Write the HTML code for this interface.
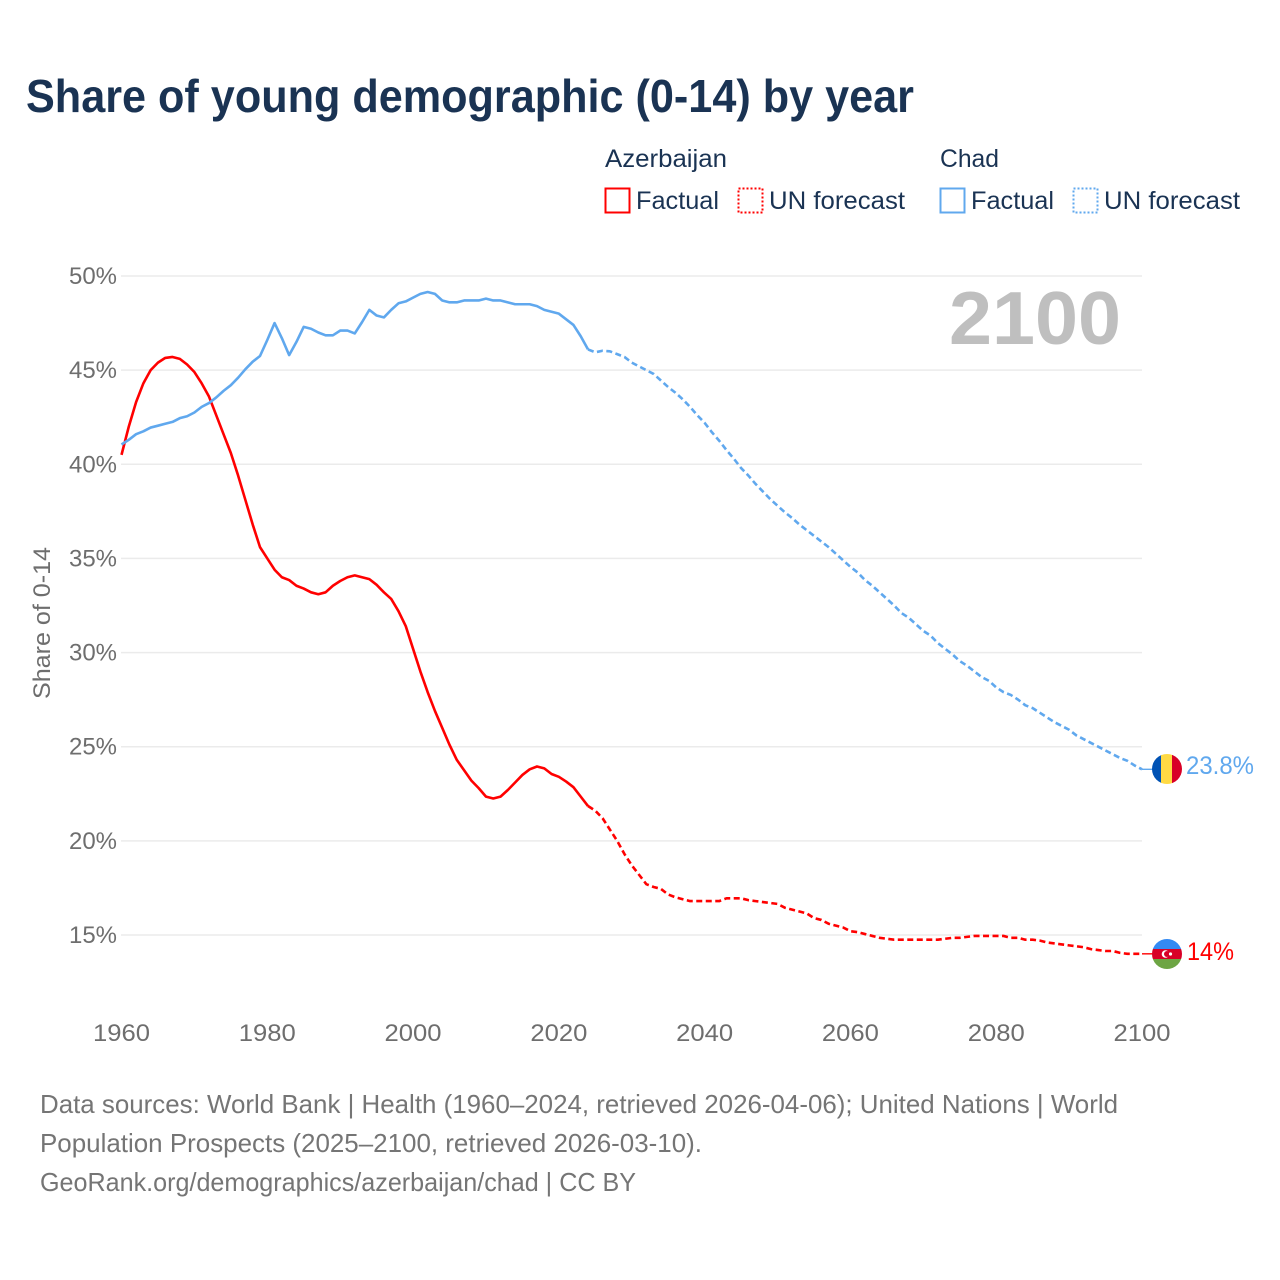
<!DOCTYPE html>
<html lang="en">
<head>
<meta charset="utf-8">
<title>Share of young demographic (0-14) by year</title>
<style>
html,body{margin:0;padding:0;background:#fff;width:1280px;height:1280px;overflow:hidden}
svg{display:block}
text{font-family:"Liberation Sans",Arial,sans-serif}
</style>
</head>
<body>
<svg id="chart" xmlns="http://www.w3.org/2000/svg" width="1280" height="1280" viewBox="0 0 1280 1280">
  <rect width="1280" height="1280" fill="#ffffff"/>
  <text x="26" y="112" font-size="46" font-weight="700" fill="#1a3353" textLength="888" lengthAdjust="spacingAndGlyphs">Share of young demographic (0-14) by year</text>

  <g font-size="25" fill="#1a3353">
    <text x="605" y="167" textLength="122" lengthAdjust="spacingAndGlyphs">Azerbaijan</text>
    <text x="940" y="167" textLength="59" lengthAdjust="spacingAndGlyphs">Chad</text>
    <g>
      <rect x="605.5" y="188.5" width="24" height="24" fill="none" stroke="#ff0000" stroke-width="2"/>
      <text x="636" y="209" textLength="83" lengthAdjust="spacingAndGlyphs">Factual</text>
    </g>
    <g>
      <rect x="738.5" y="188.5" width="24" height="24" fill="none" stroke="#ff0000" stroke-width="2" stroke-dasharray="2 2"/>
      <text x="769" y="209" textLength="136" lengthAdjust="spacingAndGlyphs">UN forecast</text>
    </g>
    <g>
      <rect x="940.5" y="188.5" width="24" height="24" fill="none" stroke="#60a8ee" stroke-width="2"/>
      <text x="971" y="209" textLength="83" lengthAdjust="spacingAndGlyphs">Factual</text>
    </g>
    <g>
      <rect x="1073.5" y="188.5" width="24" height="24" fill="none" stroke="#60a8ee" stroke-width="2" stroke-dasharray="2 2"/>
      <text x="1104" y="209" textLength="136" lengthAdjust="spacingAndGlyphs">UN forecast</text>
    </g>
  </g>

  <g id="grid"></g>
  <g id="yTicks"></g>
  <g id="xTicks"></g>

  <text transform="translate(50,623) rotate(-90)" text-anchor="middle" font-size="24" fill="#6e6e6e" textLength="152" lengthAdjust="spacingAndGlyphs">Share of 0-14</text>
  <text x="949" y="344" font-size="75" font-weight="700" fill="#bfbfbf" textLength="172" lengthAdjust="spacingAndGlyphs">2100</text>

  <g id="series"></g>

  <defs>
    <clipPath id="flagClipChad"><circle cx="1167" cy="769" r="15"/></clipPath>
    <clipPath id="flagClipAz"><circle cx="1167" cy="954" r="15"/></clipPath>
  </defs>
  <g id="flagChad" clip-path="url(#flagClipChad)">
    <rect x="1152" y="754" width="10" height="30" fill="#0052b4"/>
    <rect x="1161" y="754" width="11" height="30" fill="#ffda44"/>
    <rect x="1172" y="754" width="10" height="30" fill="#d80027"/>
  </g>
  <g id="flagAz" clip-path="url(#flagClipAz)">
    <rect x="1152" y="939" width="30" height="10" fill="#338af3"/>
    <rect x="1152" y="949" width="30" height="10" fill="#d80027"/>
    <rect x="1152" y="959" width="30" height="10" fill="#6da544"/>
    <circle cx="1165.5" cy="954" r="3.8" fill="#ffffff"/>
    <circle cx="1167" cy="954" r="3" fill="#d80027"/>
    <circle cx="1170.5" cy="954" r="1.6" fill="#ffffff"/>
  </g>
  <text id="endChad" x="1186" y="774" font-size="25" fill="#60a8ee" textLength="68" lengthAdjust="spacingAndGlyphs"></text>
  <text id="endAz" x="1187" y="959" font-size="25" fill="#ff0000" textLength="47" lengthAdjust="spacingAndGlyphs"></text>

  <g font-size="26" fill="#757575">
    <text x="40" y="1113" textLength="1078" lengthAdjust="spacingAndGlyphs">Data sources: World Bank | Health (1960–2024, retrieved 2026-04-06); United Nations | World</text>
    <text x="40" y="1152" textLength="662" lengthAdjust="spacingAndGlyphs">Population Prospects (2025–2100, retrieved 2026-03-10).</text>
    <text x="40" y="1191" textLength="596" lengthAdjust="spacingAndGlyphs">GeoRank.org/demographics/azerbaijan/chad | CC BY</text>
  </g>
</svg>
<script>
const yTickValues = [15, 20, 25, 30, 35, 40, 45, 50];
const xTickValues = [1960, 1980, 2000, 2020, 2040, 2060, 2080, 2100];
const factualStartYear = 1960;
const forecastStartYear = 2024;
const azerbaijanFactual = [40.5,42.0,43.3,44.3,45.0,45.4,45.65,45.7,45.6,45.3,44.9,44.3,43.6,42.6,41.6,40.6,39.4,38.1,36.8,35.6,35.0,34.4,34.0,33.85,33.55,33.4,33.2,33.1,33.2,33.55,33.8,34.0,34.1,34.0,33.9,33.6,33.2,32.85,32.2,31.4,30.2,29.0,27.9,26.9,26.0,25.1,24.3,23.75,23.2,22.8,22.35,22.25,22.35,22.7,23.1,23.5,23.8,23.95,23.85,23.55,23.4,23.15,22.85,22.35,21.85];
const azerbaijanForecast = [21.85,21.6,21.2,20.6,20.0,19.3,18.7,18.2,17.7,17.55,17.45,17.15,17.0,16.9,16.8,16.8,16.8,16.8,16.8,16.95,16.95,16.95,16.85,16.8,16.75,16.7,16.65,16.45,16.35,16.25,16.15,15.9,15.8,15.6,15.5,15.4,15.2,15.15,15.05,14.95,14.85,14.8,14.75,14.75,14.75,14.75,14.75,14.75,14.75,14.8,14.85,14.85,14.9,14.95,14.95,14.95,14.95,14.95,14.85,14.85,14.75,14.75,14.7,14.6,14.55,14.5,14.45,14.4,14.35,14.25,14.2,14.15,14.15,14.05,14.0,14.0,14.0];
const chadFactual = [41.05,41.3,41.6,41.75,41.95,42.05,42.15,42.25,42.45,42.55,42.75,43.05,43.25,43.55,43.9,44.2,44.6,45.05,45.45,45.75,46.6,47.5,46.7,45.8,46.5,47.3,47.2,47.0,46.85,46.85,47.1,47.1,46.95,47.55,48.2,47.9,47.8,48.2,48.55,48.65,48.85,49.05,49.15,49.05,48.7,48.6,48.6,48.7,48.7,48.7,48.8,48.7,48.7,48.6,48.5,48.5,48.5,48.4,48.2,48.1,48.0,47.7,47.4,46.8,46.1];
const chadForecast = [46.1,45.95,46.03,46.0,45.85,45.7,45.4,45.2,45.0,44.8,44.45,44.1,43.8,43.45,43.05,42.6,42.2,41.7,41.25,40.75,40.3,39.8,39.4,38.95,38.55,38.15,37.8,37.45,37.15,36.8,36.5,36.2,35.9,35.6,35.25,34.9,34.55,34.25,33.85,33.55,33.2,32.85,32.5,32.1,31.85,31.5,31.15,30.9,30.5,30.2,29.9,29.55,29.3,29.0,28.7,28.5,28.15,27.9,27.75,27.5,27.2,27.05,26.8,26.55,26.3,26.1,25.9,25.6,25.4,25.2,25.0,24.8,24.6,24.4,24.25,24.0,23.8];
const endLabelChad = "23.8%";
const endLabelAzerbaijan = "14%";

const SVG_NS = "http://www.w3.org/2000/svg";
function xScale(year) { return 121.5 + (year - 1960) * (1142 - 121.5) / 140; }
function yScale(value) { return 276 + (50 - value) * (935 - 276) / 35; }
function make(tag, attrs, parent) {
  const el = document.createElementNS(SVG_NS, tag);
  for (const k in attrs) el.setAttribute(k, attrs[k]);
  parent.appendChild(el);
  return el;
}
function linePoints(values, startYear) {
  return values.map((v, i) => xScale(startYear + i).toFixed(2) + "," + yScale(v).toFixed(2)).join(" ");
}

const gridGroup = document.getElementById("grid");
const yGroup = document.getElementById("yTicks");
const xGroup = document.getElementById("xTicks");
const seriesGroup = document.getElementById("series");

yTickValues.forEach(function (v) {
  const gl = make("line", { x1: 121, x2: 1142, y1: yScale(v), y2: yScale(v), stroke: "#ebebeb", "stroke-width": 1.5 }, gridGroup);
  
  
  const t = make("text", { x: 117, y: yScale(v) + 8, "text-anchor": "end", "font-size": 24, fill: "#6e6e6e", textLength: 48, lengthAdjust: "spacingAndGlyphs" }, yGroup);
  t.textContent = v + "%";
  
  
});

xTickValues.forEach(function (v) {
  const t = make("text", { x: xScale(v), y: 1041, "text-anchor": "middle", "font-size": 24, fill: "#6e6e6e", textLength: 57, lengthAdjust: "spacingAndGlyphs" }, xGroup);
  t.textContent = String(v);
  
  
});

const lineBase = { fill: "none", "stroke-width": 2.6, "stroke-linejoin": "round" };

const azSolid = make("polyline", Object.assign({ points: linePoints(azerbaijanFactual, factualStartYear), stroke: "#ff0000" }, lineBase), seriesGroup);



const azDash = make("polyline", Object.assign({ points: linePoints(azerbaijanForecast, forecastStartYear), stroke: "#ff0000", "stroke-dasharray": "6 3.5" }, lineBase), seriesGroup);



const chadSolid = make("polyline", Object.assign({ points: linePoints(chadFactual, factualStartYear), stroke: "#60a8ee" }, lineBase), seriesGroup);



const chadDash = make("polyline", Object.assign({ points: linePoints(chadForecast, forecastStartYear), stroke: "#60a8ee", "stroke-dasharray": "6 3.5" }, lineBase), seriesGroup);



const chadLast = chadForecast[chadForecast.length - 1];
const azLast = azerbaijanForecast[azerbaijanForecast.length - 1];

const chadConn = make("line", { x1: xScale(2100), x2: 1153, y1: yScale(chadLast), y2: yScale(chadLast), stroke: "#60a8ee", "stroke-width": 1.4 }, seriesGroup);



const azConn = make("line", { x1: xScale(2100), x2: 1153, y1: yScale(azLast), y2: yScale(azLast), stroke: "#ff0000", "stroke-width": 1.4 }, seriesGroup);



const endChadEl = document.getElementById("endChad");
endChadEl.textContent = endLabelChad;
endChadEl.setAttribute("y", yScale(chadLast) + 4.5);
const endAzEl = document.getElementById("endAz");
endAzEl.textContent = endLabelAzerbaijan;
endAzEl.setAttribute("y", yScale(azLast) + 6);
</script>
</body>
</html>
